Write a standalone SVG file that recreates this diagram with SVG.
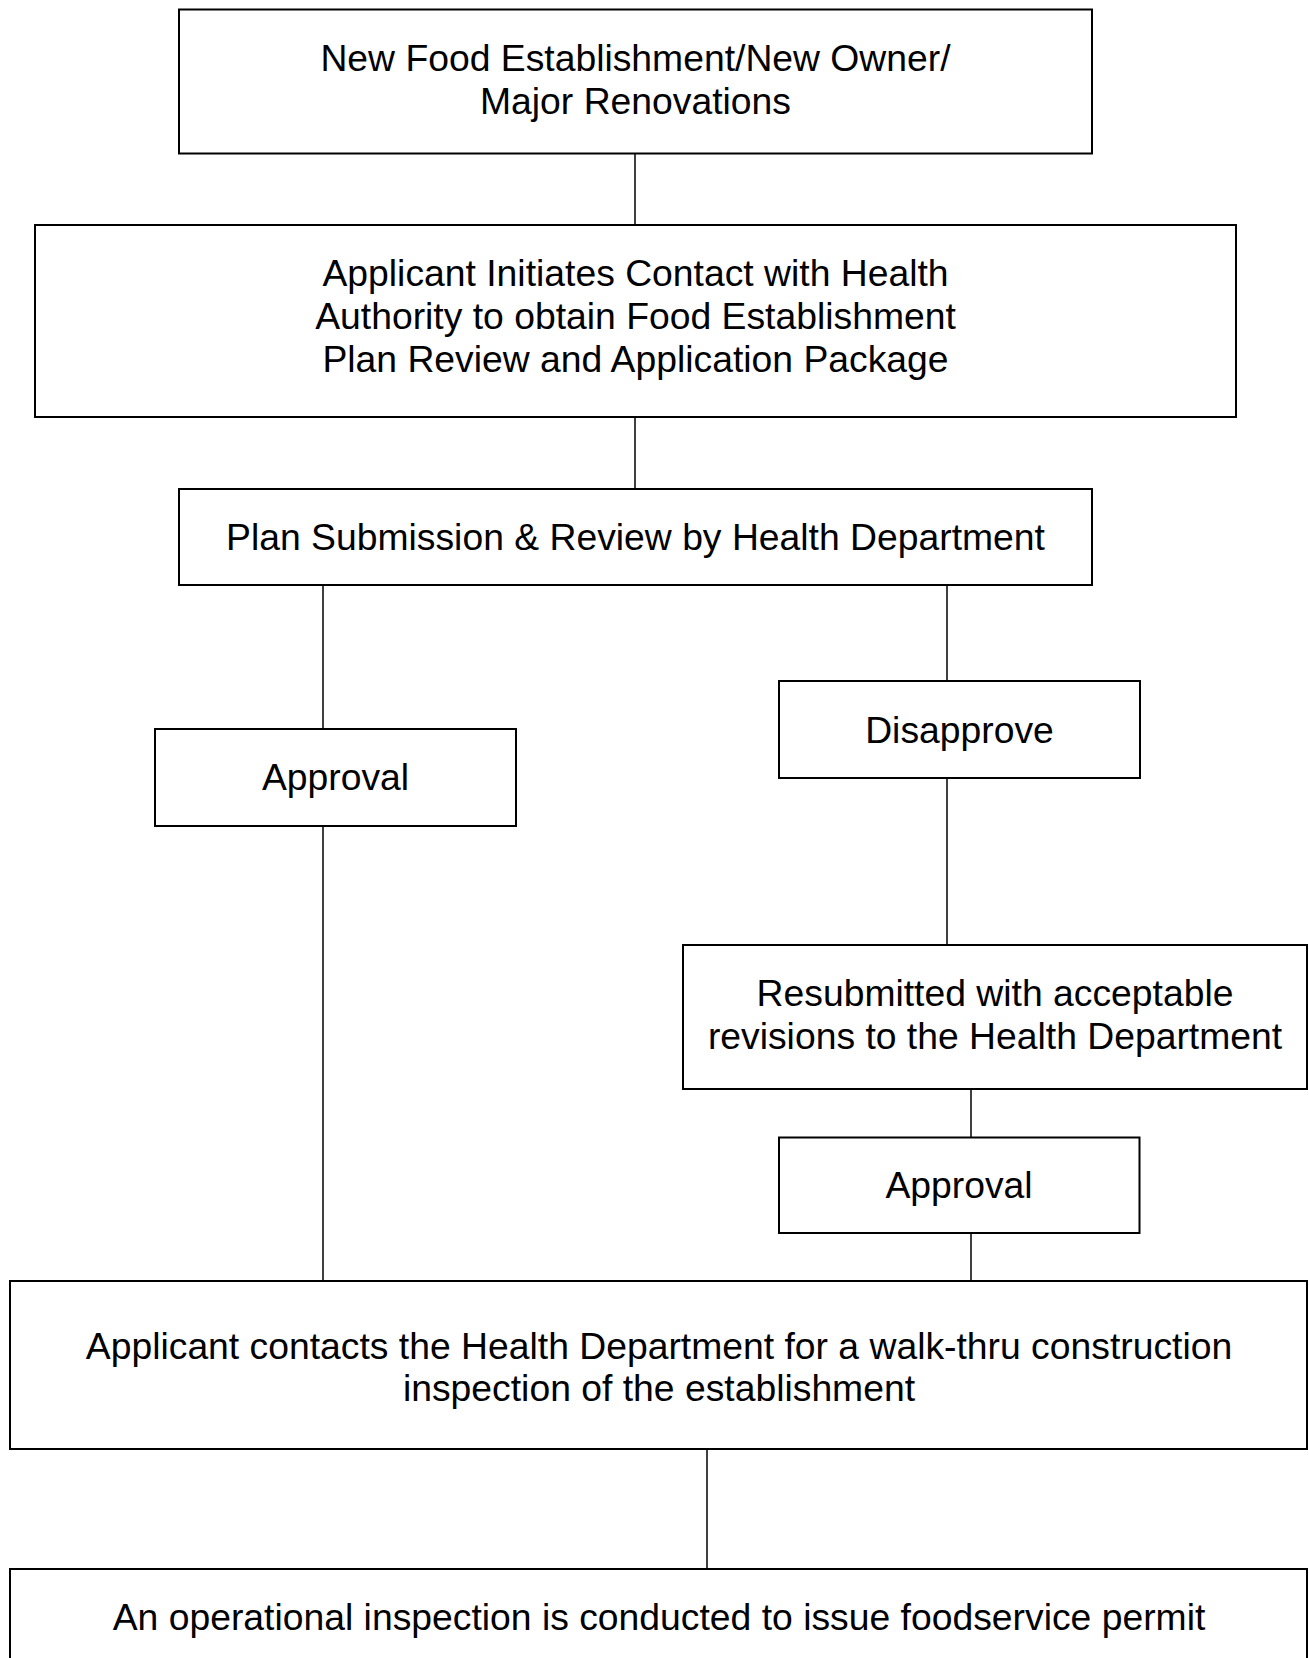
<svg xmlns="http://www.w3.org/2000/svg" width="1309" height="1658" viewBox="0 0 1309 1658">
<style>
.box{fill:#fff;stroke:#000;stroke-width:2}
.t{font-family:"Liberation Sans",Arial,sans-serif;font-size:37.3px;fill:#000;text-anchor:middle}
.c{stroke:#000;stroke-width:1.5;fill:none}
</style>
<rect x="0" y="0" width="1309" height="1658" fill="#fff"/>
<g id="connectors">
<line class="c" x1="635" y1="153.5" x2="635" y2="225"/>
<line class="c" x1="635" y1="417" x2="635" y2="489"/>
<line class="c" x1="323" y1="585" x2="323" y2="729"/>
<line class="c" x1="947" y1="585" x2="947" y2="681"/>
<line class="c" x1="947" y1="778" x2="947" y2="945"/>
<line class="c" x1="323" y1="826" x2="323" y2="1281"/>
<line class="c" x1="971" y1="1089" x2="971" y2="1137.5"/>
<line class="c" x1="971" y1="1233" x2="971" y2="1281"/>
<line class="c" x1="707" y1="1449" x2="707" y2="1569"/>
</g>
<g id="n1">
<rect class="box" x="179" y="9.5" width="913" height="144"/>
<text class="t" x="635.5" y="70.8">New Food Establishment/New Owner/</text>
<text class="t" x="635.5" y="113.7">Major Renovations</text>
</g>
<g id="n2">
<rect class="box" x="35" y="225" width="1201" height="192"/>
<text class="t" x="635.5" y="286.3">Applicant Initiates Contact with Health</text>
<text class="t" x="635.5" y="329.2">Authority to obtain Food Establishment</text>
<text class="t" x="635.5" y="372.2">Plan Review and Application Package</text>
</g>
<g id="n3">
<rect class="box" x="179" y="489" width="913" height="96"/>
<text class="t" x="635.5" y="550">Plan Submission &amp; Review by Health Department</text>
</g>
<g id="n4">
<rect class="box" x="155" y="729" width="361" height="97"/>
<text class="t" x="335.5" y="790">Approval</text>
</g>
<g id="n5">
<rect class="box" x="779" y="681" width="361" height="97"/>
<text class="t" x="959.5" y="743">Disapprove</text>
</g>
<g id="n6">
<rect class="box" x="683" y="945" width="624" height="144"/>
<text class="t" x="995" y="1006.4">Resubmitted with acceptable</text>
<text class="t" x="995" y="1048.5">revisions to the Health Department</text>
</g>
<g id="n7">
<rect class="box" x="779" y="1137.5" width="360.5" height="95.5"/>
<text class="t" x="959" y="1198.3">Approval</text>
</g>
<g id="n8">
<rect class="box" x="10" y="1281" width="1297" height="168"/>
<text class="t" x="659" y="1359">Applicant contacts the Health Department for a walk-thru construction</text>
<text class="t" x="659" y="1401">inspection of the establishment</text>
</g>
<g id="n9">
<rect class="box" x="10" y="1569" width="1297" height="140"/>
<text class="t" x="659" y="1630">An operational inspection is conducted to issue foodservice permit</text>
</g>
</svg>
